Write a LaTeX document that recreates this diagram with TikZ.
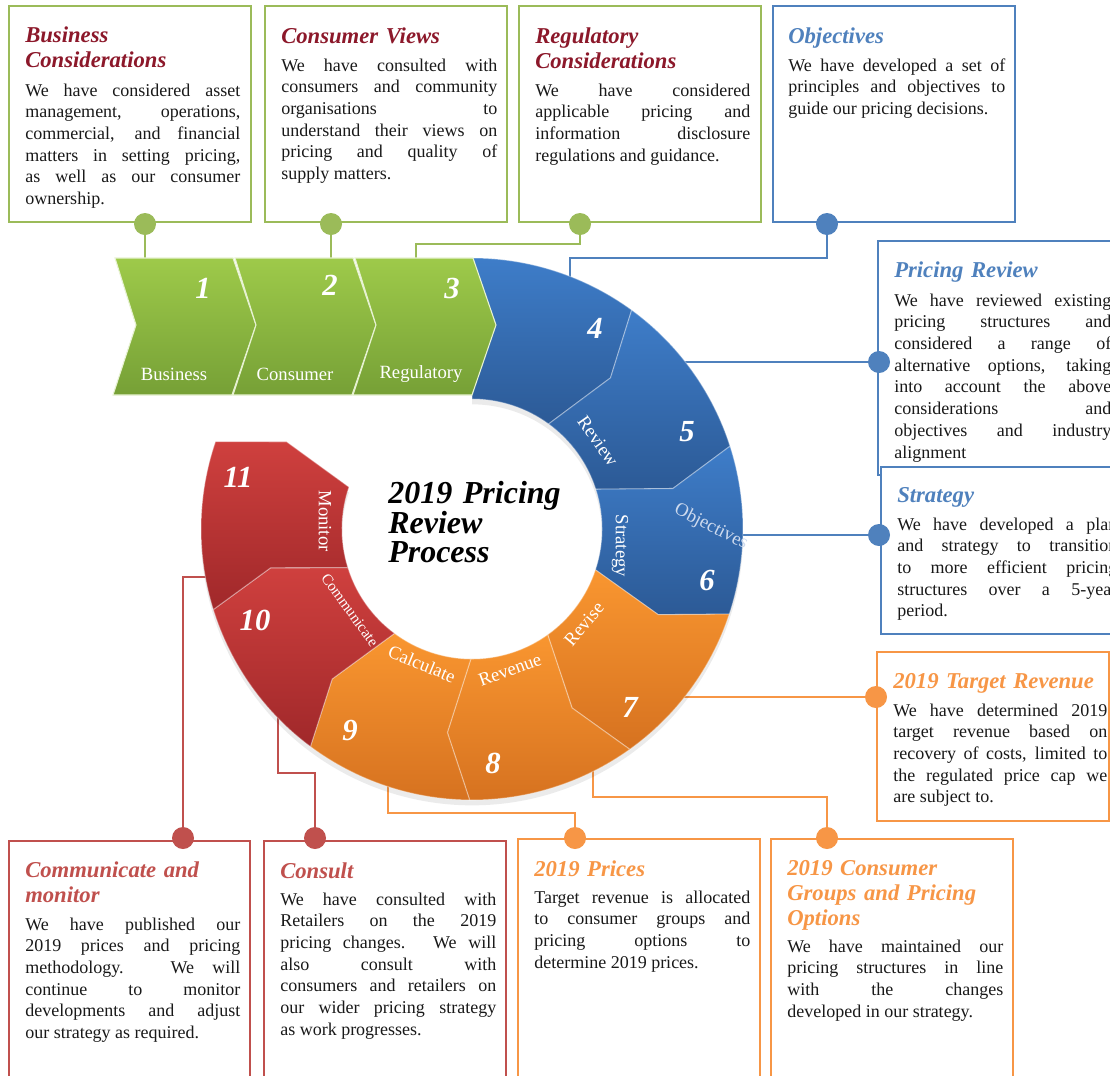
\documentclass[tikz,border=0pt]{standalone}
\usepackage{fontspec}
\setmainfont{Liberation Serif}
\usetikzlibrary{positioning}

\definecolor{gframe}{RGB}{155,187,89}
\definecolor{bframe}{RGB}{79,129,189}
\definecolor{oframe}{RGB}{247,150,70}
\definecolor{rframe}{RGB}{192,80,77}
\definecolor{headred}{RGB}{140,24,42}
\definecolor{bodyink}{RGB}{25,25,25}
\definecolor{greentop}{RGB}{158,202,74}
\definecolor{greenbot}{RGB}{118,160,54}
\definecolor{bluetop}{RGB}{62,125,201}
\definecolor{bluebot}{RGB}{44,90,150}
\definecolor{orangetop}{RGB}{249,150,48}
\definecolor{orangebot}{RGB}{214,114,32}
\definecolor{redtop}{RGB}{207,64,62}
\definecolor{redbot}{RGB}{160,40,42}
\definecolor{paleblue}{RGB}{205,218,238}

\newcommand{\ringin}{130}
\newcommand{\ringout}{271}
\newcommand{\ringmid}{205}
\newcommand{\ringnotch}{6.4}

% one notched piece of the ring, from angle #1 clockwise to #2
\newcommand{\ringpiece}[4]{%
  \path[ringpart, top color=#3, bottom color=#4]
    (#1:\ringout) arc[start angle=#1, end angle=#2, radius=\ringout]
    -- ({#2-\ringnotch}:\ringmid) -- (#2:\ringin)
    arc[start angle=#2, end angle=#1, radius=\ringin]
    -- ({#1-\ringnotch}:\ringmid) -- cycle;}

% green arrow block, left edge at x=#1
\newcommand{\greenchevron}[1]{%
  \path[chevron] (#1+2,258) -- (#1+120,258) -- (#1+143,325) -- (#1+119,395)
    -- (#1,395) -- (#1+23,325) -- cycle;}

\tikzset{
  infobox/.style={draw=#1, line width=1.5pt, fill=white, inner sep=0pt, anchor=north west},
  boxhead/.style={anchor=base west, inner sep=0pt, text width=175pt, align=left, text=#1,
    font=\fontsize{17}{18.75}\selectfont\bfseries\itshape},
  boxbody/.style={anchor=base west, inner sep=0pt, align=justify, text=bodyink,
    font=\fontsize{13.5}{16.3}\selectfont},
  joint/.style={circle, fill=#1, inner sep=0pt, minimum size=16.5pt},
  wire/.style={draw=#1, line width=1.5pt},
  ringpart/.style={draw=white, draw opacity=0.35, line width=0.8pt},
  chevron/.style={top color=greentop, bottom color=greenbot, draw=white!75!greentop, line width=0.8pt},
  stepnum/.style={text=white, font=\fontsize{23}{23}\selectfont\bfseries\itshape},
  steptag/.style={text=white, font=\fontsize{14}{14}\selectfont},
}

\begin{document}
\begin{tikzpicture}[x=0.75pt, y=-0.75pt]
\path[use as bounding box, fill=white] (0,0) rectangle (1110,1075);

% boxes along the top
\node[infobox=gframe, minimum width=181.5pt, minimum height=162pt] (b1) at (8,5) {};
\node[infobox=gframe, minimum width=181.5pt, minimum height=162pt] (b2) at (264,5) {};
\node[infobox=gframe, minimum width=181.5pt, minimum height=162pt] (b3) at (518,5) {};
\node[infobox=bframe, minimum width=181.5pt, minimum height=162pt] (b4) at (772,5) {};
% boxes on the right
\node[infobox=bframe, minimum width=186pt, minimum height=175.5pt] (b5) at (877,240) {};
\node[infobox=bframe, minimum width=183.75pt, minimum height=125.25pt] (b6) at (880,466) {};
\node[infobox=oframe, minimum width=174pt, minimum height=126.75pt] (b7) at (876,651) {};
% boxes along the bottom
\node[infobox=oframe, minimum width=181.5pt, minimum height=185.25pt] (b8) at (770,838) {};
\node[infobox=oframe, minimum width=181.5pt, minimum height=185.25pt] (b9) at (517,838) {};
\node[infobox=rframe, minimum width=181.5pt, minimum height=183.75pt] (b10) at (263,840) {};
\node[infobox=rframe, minimum width=180.75pt, minimum height=183.75pt] (b11) at (8,840) {};

% texts
\node[boxhead=headred] (h1) at (25,42) {Business\\Considerations};
\node[boxbody, text width=161.25pt] (t1) at (25,96) {We have considered asset\linebreak
  management, operations,\linebreak commercial, and financial\linebreak
  matters in setting pricing,\linebreak as well as our consumer\linebreak ownership.};
\node[boxhead=headred] (h2) at (281,43) {Consumer Views};
\node[boxbody, text width=162pt] (t2) at (281,71) {We have consulted with\linebreak
  consumers and community\linebreak organisations to\linebreak
  understand their views on\linebreak pricing and quality of\linebreak supply matters.};
\node[boxhead=headred] (h3) at (535,43) {Regulatory\\Considerations};
\node[boxbody, text width=161.25pt] (t3) at (535,96) {We have considered\linebreak
  applicable pricing and\linebreak information disclosure\linebreak regulations and guidance.};
\node[boxhead=bframe] (h4) at (788,43) {Objectives};
\node[boxbody, text width=162.75pt] (t4) at (788,71) {We have developed a set of\linebreak
  principles and objectives to\linebreak guide our pricing decisions.};
\node[boxhead=bframe] (h5) at (894,277) {Pricing Review};
\node[boxbody, text width=162.75pt] (t5) at (894,306) {We have reviewed existing\linebreak
  pricing structures and\linebreak considered a range of\linebreak
  alternative options, taking\linebreak into account the above\linebreak
  considerations and\linebreak objectives and industry\linebreak alignment};
\node[boxhead=bframe] (h6) at (897,502) {Strategy};
\node[boxbody, text width=165pt] (t6) at (897,530) {We have developed a plan\linebreak
  and strategy to transition\linebreak to more efficient pricing\linebreak
  structures over a 5-year\linebreak period.};
\node[boxhead=oframe] (h7) at (893,688) {2019 Target Revenue};
\node[boxbody, text width=160.5pt] (t7) at (893,716) {We have determined 2019\linebreak
  target revenue based on\linebreak recovery of costs, limited to\linebreak
  the regulated price cap we\linebreak are subject to.};
\node[boxhead=oframe] (h8) at (787,875) {2019 Consumer\\Groups and Pricing\\Options};
\node[boxbody, text width=162pt] (t8) at (787,952) {We have maintained our\linebreak
  pricing structures in line\linebreak with the changes\linebreak developed in our strategy.};
\node[boxhead=oframe] (h9) at (534,876) {2019 Prices};
\node[boxbody, text width=162pt] (t9) at (534,903) {Target revenue is allocated\linebreak
  to consumer groups and\linebreak pricing options to\linebreak determine 2019 prices.};
\node[boxhead=rframe] (h10) at (280,878) {Consult};
\node[boxbody, text width=162pt] (t10) at (280,905) {We have consulted with\linebreak
  Retailers on the 2019\linebreak pricing changes. We will\linebreak also consult with\linebreak
  consumers and retailers on\linebreak our wider pricing strategy\linebreak as work progresses.};
\node[boxhead=rframe] (h11) at (25,877) {Communicate and\\monitor};
\node[boxbody, text width=161.25pt] (t11) at (25,930) {We have published our\linebreak
  2019 prices and pricing\linebreak methodology. We will\linebreak continue to monitor\linebreak
  developments and adjust\linebreak our strategy as required.};

% dots on the box edges
\node[joint=gframe] (d1) at (145,224) {};
\node[joint=gframe] (d2) at (331,224) {};
\node[joint=gframe] (d3) at (580,224) {};
\node[joint=bframe] (d4) at (827,224) {};
\node[joint=bframe] (d5) at (879,362) {};
\node[joint=bframe] (d6) at (879,535) {};
\node[joint=oframe] (d7) at (876,697) {};
\node[joint=oframe] (d8) at (827,838) {};
\node[joint=oframe] (d9) at (575,838) {};
\node[joint=rframe] (d10) at (315,838) {};
\node[joint=rframe] (d11) at (183,838) {};

% where the wires meet the process shapes
\coordinate (c1) at (145,262);
\coordinate (c2) at (331,262);
\coordinate (c3) at (416,262);
\coordinate (c4) at (570,285);
\coordinate (c5) at (680,362);
\coordinate (c6) at (740,535);
\coordinate (c7) at (680,697);
\coordinate (c8) at (593,760);
\coordinate (c9) at (388,775);
\coordinate (c10) at (278,705);
\coordinate (c11) at (212,577);

\draw[wire=gframe] (d1) -- (c1);
\draw[wire=gframe] (d2) -- (c2);
\draw[wire=gframe] (d3) -- ++(0,20) -| (c3);
\draw[wire=bframe] (d4) -- ++(0,34) -| (c4);
\draw[wire=bframe] (d5) -- (c5);
\draw[wire=bframe] (d6) -- (c6);
\draw[wire=oframe] (d7) -- (c7);
\draw[wire=oframe] (c8) -- ++(0,37) -| (d8);
\draw[wire=oframe] (c9) -- ++(0,38) -| (d9);
\draw[wire=rframe] (c10) -- ++(0,68) -| (d10);
\draw[wire=rframe] (d11) |- (c11);

% the ring
\begin{scope}[shift={(472,529)}, y=0.75pt]
  \fill[black, opacity=0.08, yshift=-4pt] (90:\ringout) arc[start angle=90, end angle=-198.8, radius=\ringout]
    -- (-198.8:\ringin) arc[start angle=-198.8, end angle=90, radius=\ringin] -- cycle;
  \path[ringpart, top color=bluetop, bottom color=bluebot]
    (90:\ringout) arc[start angle=90, end angle=53.9, radius=\ringout]
    -- (47.5:\ringmid) -- (53.9:\ringin) arc[start angle=53.9, end angle=90, radius=\ringin] -- cycle;
  \ringpiece{53.9}{17.8}{bluetop}{bluebot}
  \ringpiece{17.8}{-18.3}{bluetop}{bluebot}
  \ringpiece{-18.3}{-54.4}{orangetop}{orangebot}
  \ringpiece{-54.4}{-90.5}{orangetop}{orangebot}
  \ringpiece{-90.5}{-126.6}{orangetop}{orangebot}
  \ringpiece{-126.6}{-162.7}{redtop}{redbot}
  \ringpiece{-162.7}{-198.8}{redtop}{redbot}
\end{scope}

% green arrows in front
\greenchevron{113}
\greenchevron{233}
\greenchevron{353}

\node[stepnum] (n1) at (203,288) {1};
\node[stepnum] (n2) at (330,285) {2};
\node[stepnum] (n3) at (452,288) {3};
\node[steptag] (s1) at (174,374) {Business};
\node[steptag] (s2) at (295,374) {Consumer};
\node[steptag] (s3) at (421,374) {Regulatory};

\node[stepnum] (n4) at (595,328) {4};
\node[stepnum] (n5) at (687,432) {5};
\node[stepnum] (n6) at (707,580) {6};
\node[stepnum] (n7) at (630,707) {7};
\node[stepnum] (n8) at (493,763) {8};
\node[stepnum] (n9) at (350,730) {9};
\node[stepnum] (n10) at (255,620) {10};
\node[stepnum] (n11) at (238,477) {11};

\node[steptag, rotate=-55] (s5) at (598,441) {Review};
\node[steptag, rotate=-90] (s6) at (620,546) {Strategy};
\node[steptag, rotate=-27, text=paleblue] (s4) at (711,527) {Objectives};
\node[steptag, rotate=50] (s7) at (584,624) {Revise};
\node[steptag, rotate=20] (s8) at (510,670) {Revenue};
\node[steptag, rotate=-22] (s9) at (422,664) {Calculate};
\node[steptag, rotate=-54, font=\fontsize{11.5}{11.5}\selectfont] (s10) at (350,610) {Communicate};
\node[steptag, rotate=-90] (s11) at (325,521) {Monitor};

\node[anchor=base west, inner sep=0pt, text width=150pt, align=left,
  font=\fontsize{24}{21.75}\selectfont\bfseries\itshape] (title) at (388,503)
  {2019 Pricing\\Review\\Process};
\end{tikzpicture}
\end{document}
